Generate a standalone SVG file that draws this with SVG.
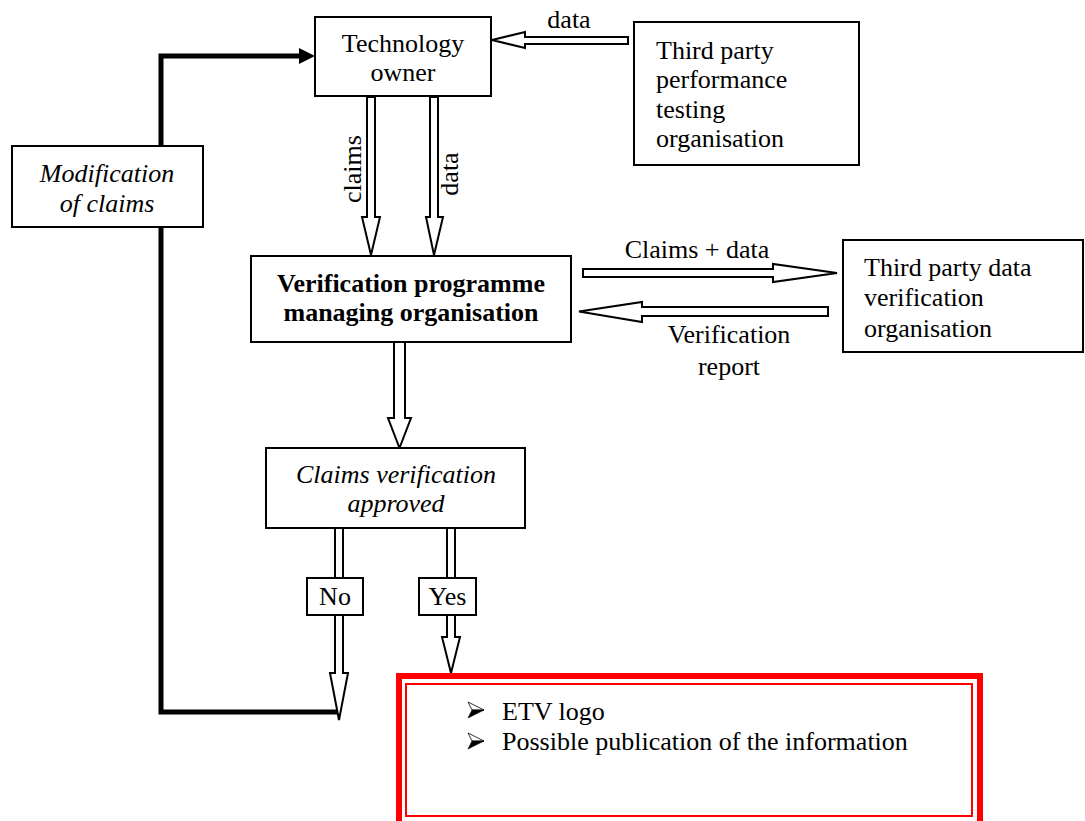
<svg xmlns="http://www.w3.org/2000/svg" width="1085" height="821" viewBox="0 0 1085 821">
  <style>
    .box { fill: #fff; stroke: #000; stroke-width: 2; }
    .c { text-anchor: middle; }
    .i { font-style: italic; }
    .b { font-weight: bold; }
    .hollow { fill: #fff; stroke: #000; stroke-width: 2; stroke-linejoin: miter; }
    .feedback { fill: none; stroke: #000; stroke-width: 5; }
    .bullet { fill: #000; stroke: #000; stroke-width: 0.6; stroke-linejoin: round; }
    .bullet-top { fill: #fff; stroke: #000; stroke-width: 0.8; stroke-linejoin: round; }
  </style>

  <defs>
    <!-- arrowhead bullet: dark lower half, light upper half -->
    <g id="arrow-bullet">
      <polygon class="bullet-top" points="0,-8 16,0 4,0"/>
      <polygon class="bullet" points="4,0 16,0 0,8"/>
    </g>
  </defs>

  <!-- connectors -->
  <g id="connectors">
    <!-- feedback loop: No branch back to the technology owner -->
    <polyline class="feedback" points="338,712 161,712 161,56 302,56"/>
    <polygon points="299,48 315,56 299,64" fill="#000"/>

    <!-- data from performance testing to technology owner -->
    <polygon class="hollow" points="628,37 525,37 525,32 492,40 525,48 525,44 628,44"/>

    <!-- claims and data down to the programme organisation -->
    <polygon class="hollow" points="367,97 367,217 362,217 371,255 380,217 375,217 375,97"/>
    <polygon class="hollow" points="430,97 430,217 426,217 434,255 443,217 438,217 438,97"/>

    <!-- claims + data out to data verification, report back -->
    <polygon class="hollow" points="583,269 773,269 773,264 837,273 773,282 773,277 583,277"/>
    <polygon class="hollow" points="828,307 642,307 642,302 579,311.5 642,322 642,316 828,316"/>

    <!-- programme organisation to approval decision -->
    <polygon class="hollow" points="394,342 394,418 388,418 399.5,448 411,418 405,418 405,342"/>

    <!-- No branch -->
    <polygon class="hollow" points="335,528 335,578 343,578 343,528"/>
    <polygon class="hollow" points="335,615 335,673 330,673 339,720 348,673 343,673 343,615"/>

    <!-- Yes branch -->
    <polygon class="hollow" points="447,528 447,578 455,578 455,528"/>
    <polygon class="hollow" points="447,615 447,637 442,637 451,673 460,637 455,637 455,615"/>
  </g>

  <g font-family="Liberation Serif, Times New Roman, Times, serif" font-size="26" fill="#000">
    <g id="technology-owner">
      <rect class="box" x="315" y="17" width="176" height="79"/>
      <text class="c" x="403" y="52">Technology</text>
      <text class="c" x="403" y="81">owner</text>
    </g>

    <g id="label-data-top">
      <text class="c" x="569" y="28">data</text>
    </g>

    <g id="performance-testing">
      <rect class="box" x="634" y="22" width="225" height="143"/>
      <text x="656" y="59">Third party</text>
      <text x="656" y="88">performance</text>
      <text x="656" y="118">testing</text>
      <text x="656" y="147">organisation</text>
    </g>

    <g id="label-claims">
      <text class="c" transform="translate(361,169) rotate(-90)">claims</text>
    </g>
    <g id="label-data-side">
      <text class="c" transform="translate(458,174) rotate(-90)">data</text>
    </g>

    <g id="modification">
      <rect class="box" x="12" y="146" width="191" height="81"/>
      <text class="c i" x="107" y="182">Modification</text>
      <text class="c i" x="107" y="212">of claims</text>
    </g>

    <g id="programme-organisation">
      <rect class="box" x="251" y="256" width="320" height="86"/>
      <text class="c b" x="411" y="292">Verification programme</text>
      <text class="c b" x="411" y="321">managing organisation</text>
    </g>

    <g id="label-claims-data">
      <text class="c" x="697" y="258">Claims + data</text>
    </g>
    <g id="label-report">
      <text class="c" x="729" y="343">Verification</text>
      <text class="c" x="729" y="375">report</text>
    </g>

    <g id="data-verification">
      <rect class="box" x="843" y="240" width="240" height="112"/>
      <text x="864" y="276">Third party data</text>
      <text x="864" y="306">verification</text>
      <text x="864" y="337">organisation</text>
    </g>

    <g id="approval">
      <rect class="box" x="266" y="448" width="259" height="80"/>
      <text class="c i" x="396" y="483">Claims verification</text>
      <text class="c i" x="396" y="512">approved</text>
    </g>

    <g id="no">
      <rect class="box" x="307" y="578" width="56" height="37"/>
      <text class="c" x="335" y="605">No</text>
    </g>

    <g id="yes">
      <rect class="box" x="419" y="578" width="57" height="37"/>
      <text class="c" x="447.5" y="605">Yes</text>
    </g>

    <g id="outcome">
      <rect x="399" y="676" width="581" height="160" fill="#fff" stroke="#f00" stroke-width="6"/>
      <rect x="406" y="684" width="566" height="132" fill="none" stroke="#f00" stroke-width="2"/>
      <use href="#arrow-bullet" x="468" y="710"/>
      <text x="502" y="720">ETV logo</text>
      <use href="#arrow-bullet" x="468" y="741"/>
      <text x="502" y="750">Possible publication of the information</text>
    </g>
  </g>
</svg>
